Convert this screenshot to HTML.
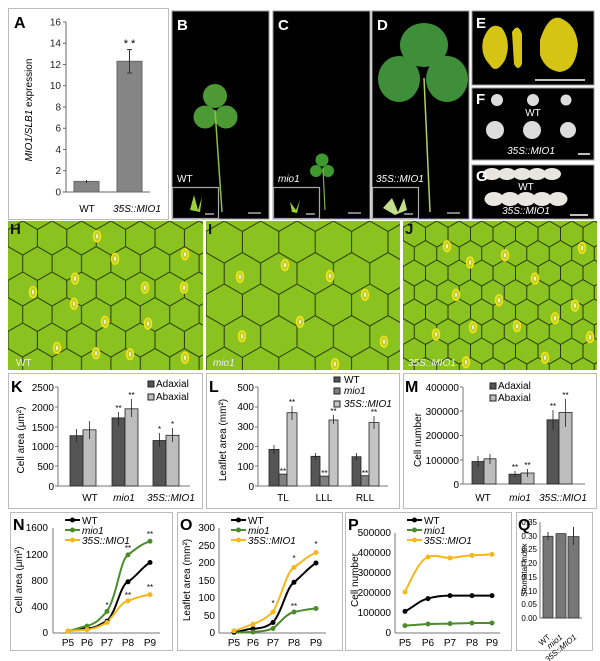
<!DOCTYPE html>
<html><head><meta charset="utf-8"><style>
html,body{margin:0;padding:0;background:#fff}
svg{display:block;font-family:"Liberation Sans",Arial,sans-serif}
</style></head><body>
<svg width="600" height="661" viewBox="0 0 600 661" xmlns="http://www.w3.org/2000/svg">
<defs>
<pattern id="hH" width="29.4" height="51" patternUnits="userSpaceOnUse" x="8" y="221">
<path d="M0,8.5 L14.7,0 L29.4,8.5 L29.4,25.5 L14.7,34 L0,25.5 Z M14.7,34 L14.7,51" fill="none" stroke="#27380c" stroke-width="1"/></pattern>
<pattern id="hI" width="36.4" height="63" patternUnits="userSpaceOnUse" x="206" y="221">
<path d="M0,10.5 L18.2,0 L36.4,10.5 L36.4,31.5 L18.2,42 L0,31.5 Z M18.2,42 L18.2,63" fill="none" stroke="#27380c" stroke-width="1"/></pattern>
<pattern id="hJ" width="22.5" height="39" patternUnits="userSpaceOnUse" x="403" y="221">
<path d="M0,6.5 L11.25,0 L22.5,6.5 L22.5,19.5 L11.25,26 L0,19.5 Z M11.25,26 L11.25,39" fill="none" stroke="#27380c" stroke-width="1"/></pattern>
<g id="st"><ellipse cx="0" cy="0" rx="3.5" ry="6" fill="#b9cf2a" stroke="#f3e21a" stroke-width="1.6"/><ellipse cx="0" cy="0" rx="0.8" ry="2.5" fill="#fff"/></g>
</defs>

<!-- Panel A -->
<rect x="8.5" y="8.5" width="160" height="211" fill="#fff" stroke="#bbb"/>
<text x="14" y="28" font-size="16" font-weight="bold">A</text>
<g font-size="10" text-anchor="end" fill="#222">
<text x="61" y="195.5">0</text><text x="61" y="174">2</text><text x="61" y="153">4</text><text x="61" y="131.5">6</text><text x="61" y="110.5">8</text><text x="61" y="89">10</text><text x="61" y="68">12</text><text x="61" y="46.5">14</text><text x="61" y="25.5">16</text>
</g>
<g stroke="#666" stroke-width="1">
<line x1="66" y1="22" x2="66" y2="192"/><line x1="66" y1="192" x2="150" y2="192"/>
<line x1="63" y1="192" x2="66" y2="192"/><line x1="63" y1="170.75" x2="66" y2="170.75"/><line x1="63" y1="149.5" x2="66" y2="149.5"/><line x1="63" y1="128.25" x2="66" y2="128.25"/><line x1="63" y1="107" x2="66" y2="107"/><line x1="63" y1="85.75" x2="66" y2="85.75"/><line x1="63" y1="64.5" x2="66" y2="64.5"/><line x1="63" y1="43.25" x2="66" y2="43.25"/><line x1="63" y1="22" x2="66" y2="22"/>
</g>
<rect x="74" y="181.4" width="25" height="10.6" fill="#858585" stroke="#666"/>
<rect x="117" y="61.3" width="25" height="130.7" fill="#858585" stroke="#666"/>
<g stroke="#333"><line x1="129.5" y1="49.6" x2="129.5" y2="73"/><line x1="127" y1="49.6" x2="132" y2="49.6"/><line x1="127" y1="73" x2="132" y2="73"/>
<line x1="86.5" y1="180" x2="86.5" y2="183"/></g>
<text x="129.5" y="47" font-size="11" text-anchor="middle">* *</text>
<text x="87" y="212" font-size="10" text-anchor="middle">WT</text>
<text x="137" y="212" font-size="10" text-anchor="middle" font-style="italic">35S::MIO1</text>
<text transform="translate(32,110) rotate(-90)" font-size="10" text-anchor="middle"><tspan font-style="italic">MIO1/SLB1</tspan> expression</text>

<!-- B C D -->
<rect x="172" y="11" width="97" height="208" fill="#000" stroke="#999"/>
<rect x="273" y="11" width="97" height="208" fill="#000" stroke="#999"/>
<rect x="372" y="11" width="97" height="208" fill="#000" stroke="#999"/>
<g font-size="15" font-weight="bold" fill="#fff"><text x="177" y="30">B</text><text x="278" y="30">C</text><text x="377" y="30">D</text></g>
<g fill="#4d9a35"><circle cx="215" cy="96" r="12"/><circle cx="205" cy="117" r="11.5"/><circle cx="226" cy="117" r="11.5"/></g>
<line x1="215" y1="110" x2="222" y2="212" stroke="#8fbf40" stroke-width="1.5"/>
<g fill="#3e9a2f"><circle cx="322" cy="160" r="6.5"/><circle cx="316" cy="171" r="6"/><circle cx="328" cy="171" r="6"/></g>
<line x1="323" y1="168" x2="325" y2="210" stroke="#7fb040" stroke-width="1.2"/>
<g fill="#3f8e3a"><ellipse cx="424" cy="45" rx="24" ry="22"/><ellipse cx="399" cy="79" rx="21" ry="23"/><ellipse cx="447" cy="79" rx="21" ry="23"/></g>
<line x1="424" y1="78" x2="430" y2="212" stroke="#b0d060" stroke-width="1.5"/>
<g fill="none" stroke="#aaa" stroke-width="1.2">
<rect x="172.5" y="187.5" width="46" height="31" fill="#000"/><rect x="273.5" y="187.5" width="46" height="31" fill="#000"/><rect x="372.5" y="187.5" width="46" height="31" fill="#000"/></g>
<g fill="#9ccf3a"><path d="M190,210 L194,195 L198,210 L202,197 L200,212 Z"/><path d="M292,212 L290,202 L296,210 L300,200 L297,213 Z"/><path d="M383,208 L392,198 L398,212 L404,198 L407,210 L395,215 Z" fill="#c4dd8a"/></g>
<g stroke="#aaa" stroke-width="1.5"><line x1="205" y1="214" x2="214" y2="214"/><line x1="306" y1="214" x2="315" y2="214"/><line x1="404" y1="214" x2="413" y2="214"/>
<line x1="248" y1="213" x2="261" y2="213"/><line x1="348" y1="213" x2="361" y2="213"/><line x1="447" y1="213" x2="460" y2="213"/></g>
<g font-size="10" fill="#fff" font-style="italic"><text x="177" y="182" font-style="normal">WT</text><text x="278" y="182">mio1</text><text x="376" y="182">35S::MIO1</text></g>

<!-- E F G -->
<rect x="472" y="11" width="122" height="74" fill="#000" stroke="#999"/>
<g fill="#d6c414"><path d="M483,40 Q490,20 502,28 Q512,42 505,60 Q496,75 490,65 Q480,55 483,40Z"/><path d="M512,32 Q518,22 522,34 L522,64 Q518,72 514,64Z"/><path d="M540,40 Q548,15 560,18 Q576,24 578,45 Q576,70 560,72 Q545,70 540,55Z"/></g>
<line x1="535" y1="80" x2="585" y2="80" stroke="#fff" stroke-width="1.5"/>
<rect x="472" y="88" width="122" height="72" fill="#000" stroke="#999"/>
<g fill="#ddd"><circle cx="497" cy="100" r="6"/><circle cx="533" cy="100" r="6"/><circle cx="566" cy="100" r="5.5"/><circle cx="495" cy="130" r="9"/><circle cx="532" cy="130" r="9"/><circle cx="568" cy="130" r="8"/></g>
<line x1="578" y1="154" x2="590" y2="154" stroke="#fff" stroke-width="1.5"/>
<rect x="472" y="165" width="122" height="54" fill="#000" stroke="#999"/>
<g fill="#e9e6e0"><ellipse cx="492" cy="174" rx="9" ry="6"/><ellipse cx="507" cy="174" rx="9" ry="6"/><ellipse cx="522" cy="174" rx="9" ry="6"/><ellipse cx="537" cy="174" rx="9" ry="6"/><ellipse cx="552" cy="174" rx="9" ry="6"/>
<ellipse cx="494" cy="199" rx="9.5" ry="7"/><ellipse cx="510" cy="199" rx="9.5" ry="7"/><ellipse cx="526" cy="199" rx="9.5" ry="7"/><ellipse cx="542" cy="199" rx="9.5" ry="7"/><ellipse cx="558" cy="199" rx="9.5" ry="7"/></g>
<line x1="570" y1="215" x2="588" y2="215" stroke="#fff" stroke-width="1.5"/>
<g font-size="15" font-weight="bold" fill="#fff"><text x="476" y="28">E</text><text x="476" y="104">F</text><text x="476" y="181">G</text></g>
<g font-size="10" fill="#fff" text-anchor="middle"><text x="533" y="116">WT</text><text x="531" y="154" font-style="italic">35S::MIO1</text><text x="526" y="190">WT</text><text x="526" y="214" font-style="italic">35S::MIO1</text></g>

<!-- H I J -->
<rect x="8" y="221" width="195" height="149" fill="#8ac21f"/><rect x="8" y="221" width="195" height="149" fill="url(#hH)"/>
<rect x="206" y="221" width="194" height="149" fill="#8ac21f"/><rect x="206" y="221" width="194" height="149" fill="url(#hI)"/>
<rect x="403" y="221" width="194" height="149" fill="#8ac21f"/><rect x="403" y="221" width="194" height="149" fill="url(#hJ)"/>
<g transform="translate(0,221) scale(1,0.9) translate(0,-226)">
<use href="#st" x="97" y="243"/><use href="#st" x="115" y="268"/><use href="#st" x="75" y="290"/><use href="#st" x="33" y="305"/><use href="#st" x="74" y="318"/><use href="#st" x="145" y="300"/><use href="#st" x="184" y="300"/><use href="#st" x="185" y="263"/><use href="#st" x="105" y="338"/><use href="#st" x="148" y="340"/><use href="#st" x="57" y="367"/><use href="#st" x="96" y="373"/><use href="#st" x="130" y="374"/><use href="#st" x="185" y="378"/>
<use href="#st" x="285" y="275"/><use href="#st" x="240" y="288"/><use href="#st" x="330" y="287"/><use href="#st" x="365" y="308"/><use href="#st" x="300" y="338"/><use href="#st" x="242" y="354"/><use href="#st" x="384" y="360"/><use href="#st" x="335" y="385"/>
<use href="#st" x="447" y="254"/><use href="#st" x="470" y="272"/><use href="#st" x="505" y="264"/><use href="#st" x="582" y="256"/><use href="#st" x="535" y="290"/><use href="#st" x="456" y="308"/><use href="#st" x="499" y="314"/><use href="#st" x="575" y="320"/><use href="#st" x="555" y="334"/><use href="#st" x="517" y="343"/><use href="#st" x="436" y="352"/><use href="#st" x="473" y="344"/><use href="#st" x="590" y="355"/><use href="#st" x="545" y="378"/><use href="#st" x="466" y="383"/>
</g>
<g font-size="15" font-weight="bold" fill="#111"><text x="10" y="234">H</text><text x="208" y="234">I</text><text x="405" y="234">J</text></g>
<g font-size="10" fill="#eee" font-style="italic"><text x="16" y="366" font-style="normal">WT</text><text x="213" y="366">mio1</text><text x="408" y="366">35S::MIO1</text></g>

<!-- K -->
<rect x="8.5" y="373.5" width="194" height="135" fill="#fff" stroke="#bbb"/>
<text x="11" y="392" font-size="16" font-weight="bold">K</text>
<g font-size="10" text-anchor="end"><text x="54" y="490">0</text><text x="54" y="470">500</text><text x="54" y="450">1000</text><text x="54" y="431">1500</text><text x="54" y="411">2000</text><text x="54" y="391">2500</text></g>
<g stroke="#777"><line x1="58" y1="387" x2="58" y2="486"/><line x1="58" y1="486" x2="190" y2="486"/><line x1="55" y1="486" x2="58" y2="486"/><line x1="55" y1="466" x2="58" y2="466"/><line x1="55" y1="446.5" x2="58" y2="446.5"/><line x1="55" y1="427" x2="58" y2="427"/><line x1="55" y1="407" x2="58" y2="407"/><line x1="55" y1="387" x2="58" y2="387"/></g>
<g stroke="#222" stroke-width="0.8">
<rect x="70" y="435.7" width="13" height="50.3" fill="#555"/><rect x="83" y="429.8" width="13" height="56.2" fill="#bdbdbd"/>
<rect x="112" y="417.9" width="13" height="68.1" fill="#555"/><rect x="125" y="408.8" width="13" height="77.2" fill="#bdbdbd"/>
<rect x="153" y="440.5" width="13" height="45.5" fill="#555"/><rect x="166" y="435.3" width="13" height="50.7" fill="#bdbdbd"/>
<path d="M76.5,429v13M89.5,421v18M118.5,412v14M131.5,399v18M159.5,433v14M172.5,428v14" fill="none"/>
</g>
<g font-size="8" text-anchor="middle"><text x="118.5" y="411">**</text><text x="131.5" y="398">**</text><text x="159.5" y="432">*</text><text x="172.5" y="427">*</text></g>
<g font-size="10" text-anchor="middle"><text x="90" y="501">WT</text><text x="124" y="501" font-style="italic">mio1</text><text x="171" y="501" font-style="italic">35S::MIO1</text></g>
<rect x="148" y="381" width="6" height="6" fill="#555" stroke="#222"/><text x="156" y="387" font-size="10">Adaxial</text>
<rect x="148" y="394" width="6" height="6" fill="#bdbdbd" stroke="#222"/><text x="156" y="400" font-size="10">Abaxial</text>
<text transform="translate(24,440) rotate(-90)" font-size="10" text-anchor="middle">Cell area (μm²)</text>

<!-- L -->
<rect x="206.5" y="373.5" width="193" height="135" fill="#fff" stroke="#bbb"/>
<text x="209" y="392" font-size="16" font-weight="bold">L</text>
<g font-size="10" text-anchor="end"><text x="254" y="490">0</text><text x="254" y="470">100</text><text x="254" y="450">200</text><text x="254" y="430">300</text><text x="254" y="410">400</text><text x="254" y="391">500</text></g>
<g stroke="#777"><line x1="258" y1="387" x2="258" y2="486"/><line x1="258" y1="486" x2="388" y2="486"/><line x1="255" y1="486" x2="258" y2="486"/><line x1="255" y1="466" x2="258" y2="466"/><line x1="255" y1="446.5" x2="258" y2="446.5"/><line x1="255" y1="427" x2="258" y2="427"/><line x1="255" y1="407" x2="258" y2="407"/><line x1="255" y1="387" x2="258" y2="387"/></g>
<g stroke="#222" stroke-width="0.8">
<rect x="269" y="449.4" width="10" height="36.6" fill="#555"/><rect x="279" y="474.1" width="8" height="11.9" fill="#808080"/><rect x="287" y="412.7" width="10" height="73.3" fill="#c4c4c4"/>
<rect x="311" y="456.3" width="9" height="29.7" fill="#555"/><rect x="320" y="476.1" width="9" height="9.9" fill="#808080"/><rect x="329" y="420" width="9" height="66" fill="#c4c4c4"/>
<rect x="352" y="456.7" width="9" height="29.3" fill="#555"/><rect x="361" y="475.7" width="8" height="10.3" fill="#808080"/><rect x="369" y="422.6" width="10" height="63.4" fill="#c4c4c4"/>
<path d="M274,445v9M292,406v14M315.5,453v7M333.5,415v9M356.5,453v7M374,416v13" fill="none"/>
</g>
<g font-size="8" text-anchor="middle"><text x="292" y="405">**</text><text x="283" y="474">**</text><text x="333.5" y="414">**</text><text x="324.5" y="476">**</text><text x="374" y="415">**</text><text x="365" y="476">**</text></g>
<g font-size="10" text-anchor="middle"><text x="283" y="501">TL</text><text x="324" y="501">LLL</text><text x="365" y="501">RLL</text></g>
<rect x="334" y="377" width="6" height="5" fill="#555" stroke="#222"/><text x="344" y="383" font-size="10">WT</text>
<rect x="334" y="388" width="6" height="6" fill="#808080" stroke="#222"/><text x="344" y="394" font-size="10" font-style="italic">mio1</text>
<rect x="334" y="401" width="6" height="6" fill="#c4c4c4" stroke="#222"/><text x="344" y="407" font-size="10" font-style="italic">35S::MIO1</text>
<text transform="translate(226,440) rotate(-90)" font-size="10" text-anchor="middle">Leaflet area (mm²)</text>

<!-- M -->
<rect x="403.5" y="373.5" width="193" height="135" fill="#fff" stroke="#bbb"/>
<text x="405" y="392" font-size="16" font-weight="bold">M</text>
<g font-size="10" text-anchor="end"><text x="459" y="488">0</text><text x="459" y="464">100000</text><text x="459" y="439">200000</text><text x="459" y="415">300000</text><text x="459" y="391">400000</text></g>
<g stroke="#777"><line x1="463" y1="387" x2="463" y2="484"/><line x1="463" y1="484" x2="585" y2="484"/><line x1="460" y1="484" x2="463" y2="484"/><line x1="460" y1="460" x2="463" y2="460"/><line x1="460" y1="435.5" x2="463" y2="435.5"/><line x1="460" y1="411" x2="463" y2="411"/><line x1="460" y1="387" x2="463" y2="387"/></g>
<g stroke="#222" stroke-width="0.8">
<rect x="472" y="461.5" width="12" height="22.5" fill="#555"/><rect x="484" y="458.8" width="12" height="25.2" fill="#bdbdbd"/>
<rect x="509" y="474.2" width="12" height="9.8" fill="#555"/><rect x="521" y="473" width="13" height="11" fill="#bdbdbd"/>
<rect x="547" y="419.8" width="12" height="64.2" fill="#555"/><rect x="559" y="412.5" width="13" height="71.5" fill="#bdbdbd"/>
<path d="M478,456v11M490,454v10M515,471v6M527.5,469v8M553,410v20M565.5,399v28" fill="none"/>
</g>
<g font-size="8" text-anchor="middle"><text x="515" y="470">**</text><text x="527.5" y="468">**</text><text x="553" y="409">**</text><text x="565.5" y="398">**</text></g>
<g font-size="10" text-anchor="middle"><text x="483" y="501">WT</text><text x="520" y="501" font-style="italic">mio1</text><text x="563" y="501" font-style="italic">35S::MIO1</text></g>
<rect x="490" y="383" width="6" height="6" fill="#555" stroke="#222"/><text x="498" y="389" font-size="10">Adaxial</text>
<rect x="490" y="395" width="6" height="6" fill="#bdbdbd" stroke="#222"/><text x="498" y="401" font-size="10">Abaxial</text>
<text transform="translate(421,440) rotate(-90)" font-size="10" text-anchor="middle">Cell number</text>

<!-- N -->
<rect x="10.5" y="512.5" width="162" height="138" fill="#fff" stroke="#bbb"/>
<text x="13" y="530" font-size="16" font-weight="bold">N</text>
<g font-size="10" text-anchor="end"><text x="48" y="636">0</text><text x="48" y="610">400</text><text x="48" y="584">800</text><text x="48" y="558">1200</text><text x="48" y="531">1600</text></g>
<g stroke="#777"><line x1="53" y1="528" x2="53" y2="633"/><line x1="53" y1="633" x2="160" y2="633"/></g>
<g font-size="10" text-anchor="middle"><text x="68" y="646">P5</text><text x="87" y="646">P6</text><text x="107" y="646">P7</text><text x="128" y="646">P8</text><text x="150" y="646">P9</text></g>
<g fill="none" stroke-width="2" stroke-linejoin="round">
<path d="M68,631 C78,630 80,628.5 87,628.4 C97,628 100,624 107,621.2 C117,611 120,585 128,581.8 C138,575 142,567 150,562.5" stroke="#000"/>
<path d="M68,631 C78,629 80,627 87,626.1 C97,623 100,619 107,611.4 C117,596 120,560 128,554.9 C138,547 142,544 150,541.2" stroke="#4c8c2e"/>
<path d="M68,631 C78,630.5 80,630 87,629.7 C97,628 100,626 107,622.5 C117,612 120,603 128,600.9 C138,597 142,596 150,594.6" stroke="#f6b71c"/>
</g>
<g fill="#000"><circle cx="87" cy="628.4" r="2.5"/><circle cx="107" cy="621.2" r="2.5"/><circle cx="128" cy="581.8" r="2.5"/><circle cx="150" cy="562.5" r="2.5"/></g>
<g fill="#4c8c2e"><circle cx="68" cy="631" r="2.5"/><circle cx="87" cy="626.1" r="2.5"/><circle cx="107" cy="611.4" r="2.5"/><circle cx="128" cy="554.9" r="2.5"/><circle cx="150" cy="541.2" r="2.5"/></g>
<g fill="#f6b71c"><circle cx="68" cy="631" r="2.5"/><circle cx="87" cy="629.7" r="2.5"/><circle cx="107" cy="622.5" r="2.5"/><circle cx="128" cy="600.9" r="2.5"/><circle cx="150" cy="594.6" r="2.5"/></g>
<g font-size="8" text-anchor="middle"><text x="107" y="608">*</text><text x="128" y="551">**</text><text x="150" y="537">**</text><text x="128" y="598">**</text><text x="150" y="590">**</text></g>
<g stroke-width="2"><line x1="65" y1="520" x2="80" y2="520" stroke="#000"/><line x1="65" y1="530" x2="80" y2="530" stroke="#4c8c2e"/><line x1="65" y1="540" x2="80" y2="540" stroke="#f6b71c"/></g>
<circle cx="72.5" cy="520" r="2.5"/><circle cx="72.5" cy="530" r="2.5" fill="#4c8c2e"/><circle cx="72.5" cy="540" r="2.5" fill="#f6b71c"/>
<g font-size="10"><text x="82" y="524">WT</text><text x="82" y="534" font-style="italic">mio1</text><text x="82" y="544" font-style="italic">35S::MIO1</text></g>
<text transform="translate(22,580) rotate(-90)" font-size="10" text-anchor="middle">Cell area (μm²)</text>

<!-- O -->
<rect x="177.5" y="512.5" width="165" height="138" fill="#fff" stroke="#bbb"/>
<text x="180" y="530" font-size="16" font-weight="bold">O</text>
<g font-size="10" text-anchor="end"><text x="215" y="636">0</text><text x="215" y="619">50</text><text x="215" y="601">100</text><text x="215" y="584">150</text><text x="215" y="566">200</text><text x="215" y="549">250</text><text x="215" y="531">300</text></g>
<g stroke="#777"><line x1="219" y1="528" x2="219" y2="633"/><line x1="219" y1="633" x2="326" y2="633"/></g>
<g font-size="10" text-anchor="middle"><text x="234" y="646">P5</text><text x="253" y="646">P6</text><text x="273" y="646">P7</text><text x="294" y="646">P8</text><text x="316" y="646">P9</text></g>
<g fill="none" stroke-width="2" stroke-linejoin="round">
<path d="M234,632.3 C244,631 246,629 253,628.8 C263,628 266,627 273,622.5 C283,610 286,588 294,582.3 C304,574 308,568 316,563" stroke="#000"/>
<path d="M234,632.7 C244,632.5 246,632 253,632 C263,631 266,631 273,628.5 C283,620 286,614 294,612 C304,610 308,609 316,608.5" stroke="#4c8c2e"/>
<path d="M234,630.9 C244,628 246,626 253,624.3 C263,620 266,618 273,612 C283,594 286,572 294,567.5 C304,560 308,556 316,552.5" stroke="#f6b71c"/>
</g>
<g fill="#000"><circle cx="234" cy="632.3" r="2.5"/><circle cx="253" cy="628.8" r="2.5"/><circle cx="273" cy="622.5" r="2.5"/><circle cx="294" cy="582.3" r="2.5"/><circle cx="316" cy="563" r="2.5"/></g>
<g fill="#4c8c2e"><circle cx="253" cy="632" r="2.5"/><circle cx="273" cy="628.5" r="2.5"/><circle cx="294" cy="612" r="2.5"/><circle cx="316" cy="608.5" r="2.5"/></g>
<g fill="#f6b71c"><circle cx="234" cy="630.9" r="2.5"/><circle cx="253" cy="624.3" r="2.5"/><circle cx="273" cy="612" r="2.5"/><circle cx="294" cy="567.5" r="2.5"/><circle cx="316" cy="552.5" r="2.5"/></g>
<g font-size="8" text-anchor="middle"><text x="273" y="606">*</text><text x="294" y="561">*</text><text x="316" y="547">*</text><text x="294" y="609">**</text></g>
<g stroke-width="2"><line x1="231" y1="520" x2="246" y2="520" stroke="#000"/><line x1="231" y1="530" x2="246" y2="530" stroke="#4c8c2e"/><line x1="231" y1="540" x2="246" y2="540" stroke="#f6b71c"/></g>
<circle cx="238.5" cy="520" r="2.5"/><circle cx="238.5" cy="530" r="2.5" fill="#4c8c2e"/><circle cx="238.5" cy="540" r="2.5" fill="#f6b71c"/>
<g font-size="10"><text x="248" y="524">WT</text><text x="248" y="534" font-style="italic">mio1</text><text x="248" y="544" font-style="italic">35S::MIO1</text></g>
<text transform="translate(190,580) rotate(-90)" font-size="10" text-anchor="middle">Leaflet area (mm²)</text>

<!-- P -->
<rect x="345.5" y="512.5" width="166" height="138" fill="#fff" stroke="#bbb"/>
<text x="348" y="530" font-size="16" font-weight="bold">P</text>
<g font-size="10" text-anchor="end"><text x="391" y="636">0</text><text x="391" y="616">100000</text><text x="391" y="596">200000</text><text x="391" y="576">300000</text><text x="391" y="556">400000</text><text x="391" y="536">500000</text></g>
<g stroke="#777"><line x1="395" y1="533" x2="395" y2="633"/><line x1="395" y1="633" x2="500" y2="633"/></g>
<g font-size="10" text-anchor="middle"><text x="405" y="646">P5</text><text x="428" y="646">P6</text><text x="450" y="646">P7</text><text x="472" y="646">P8</text><text x="492" y="646">P9</text></g>
<g fill="none" stroke-width="2" stroke-linejoin="round">
<path d="M405,611.4 C415,606 420,600 428,598.6 C436,596 442,595.6 450,595.6 L492,595.6" stroke="#000"/>
<path d="M405,625.6 L428,624 L450,623.6 L472,623 L492,623" stroke="#4c8c2e"/>
<path d="M405,592 C413,575 420,560 428,557 C436,554 442,558 450,558 C460,557 465,555.5 472,555.4 L492,554.4" stroke="#f6b71c"/>
</g>
<g fill="#000"><circle cx="405" cy="611.4" r="2.5"/><circle cx="428" cy="598.6" r="2.5"/><circle cx="450" cy="595.6" r="2.5"/><circle cx="472" cy="595.6" r="2.5"/><circle cx="492" cy="595.6" r="2.5"/></g>
<g fill="#4c8c2e"><circle cx="405" cy="625.6" r="2.5"/><circle cx="428" cy="624" r="2.5"/><circle cx="450" cy="623.6" r="2.5"/><circle cx="472" cy="623" r="2.5"/><circle cx="492" cy="623" r="2.5"/></g>
<g fill="#f6b71c"><circle cx="405" cy="592" r="2.5"/><circle cx="428" cy="557" r="2.5"/><circle cx="450" cy="558" r="2.5"/><circle cx="472" cy="555.4" r="2.5"/><circle cx="492" cy="554.4" r="2.5"/></g>
<g stroke-width="2"><line x1="407" y1="520" x2="422" y2="520" stroke="#000"/><line x1="407" y1="530" x2="422" y2="530" stroke="#4c8c2e"/><line x1="407" y1="540" x2="422" y2="540" stroke="#f6b71c"/></g>
<circle cx="414.5" cy="520" r="2.5"/><circle cx="414.5" cy="530" r="2.5" fill="#4c8c2e"/><circle cx="414.5" cy="540" r="2.5" fill="#f6b71c"/>
<g font-size="10"><text x="424" y="524">WT</text><text x="424" y="534" font-style="italic">mio1</text><text x="424" y="544" font-style="italic">35S::MIO1</text></g>
<text transform="translate(358,580) rotate(-90)" font-size="10" text-anchor="middle">Cell number</text>

<!-- Q -->
<rect x="516.5" y="512.5" width="76" height="138" fill="#fff" stroke="#bbb"/>
<text x="518" y="530" font-size="16" font-weight="bold">Q</text>
<g font-size="8" text-anchor="end"><text x="537" y="621">0.00</text><text x="537" y="607">0.05</text><text x="537" y="594">0.10</text><text x="537" y="580">0.15</text><text x="537" y="566">0.20</text><text x="537" y="552">0.25</text><text x="537" y="539">0.30</text><text x="537" y="525">0.35</text></g>
<g stroke="#777"><line x1="540" y1="522" x2="540" y2="618"/><line x1="540" y1="618" x2="582" y2="618"/></g>
<g fill="#777" stroke="#333" stroke-width="0.8"><rect x="543" y="536.3" width="10" height="81.7"/><rect x="556" y="533.6" width="10" height="84.4"/><rect x="568" y="536.6" width="11" height="81.4"/></g>
<path d="M548,532v8M573.5,527v18" stroke="#333"/>
<g font-size="8" font-style="italic"><text transform="translate(551,638) rotate(-40)" text-anchor="end" font-style="normal">WT</text><text transform="translate(563,638) rotate(-40)" text-anchor="end">mio1</text><text transform="translate(577,638) rotate(-40)" text-anchor="end">35S::MIO1</text></g>
<text transform="translate(527,570) rotate(-90)" font-size="8" text-anchor="middle">Stomatal Index</text>
</svg>
</body></html>
